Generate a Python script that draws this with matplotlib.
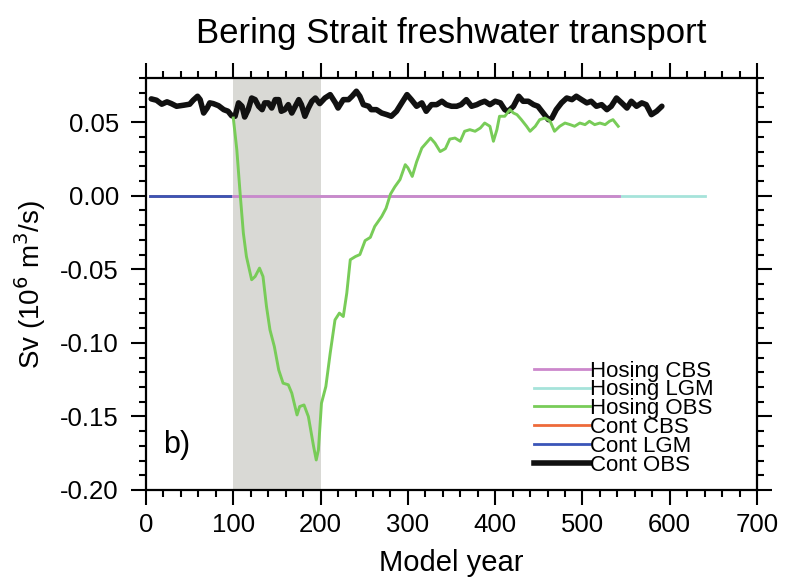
import numpy as np
import matplotlib.pyplot as plt
from matplotlib.ticker import MultipleLocator, FormatStrFormatter
from matplotlib.lines import Line2D

plt.rcParams['font.family'] = ['Liberation Sans', 'DejaVu Sans']

# Cont OBS
cont_obs_year = [6, 12, 18, 24, 29, 35, 43, 50, 54, 59, 62, 66, 70, 73, 77, 83, 89, 94, 98,
                 102, 106, 110, 113, 117, 121, 125, 129, 133, 136, 140, 144, 148, 152, 155,
                 159, 163, 167, 171, 175, 178, 182, 186, 190, 194, 199, 205, 211, 217, 220,
                 226, 232, 236, 241, 245, 249, 255, 258, 264, 270, 276, 281, 287, 293, 299,
                 304, 310, 316, 321, 327, 333, 339, 344, 350, 356, 361, 367, 373, 379, 383,
                 388, 394, 400, 406, 411, 415, 421, 427, 432, 438, 444, 449, 455, 461, 465,
                 470, 476, 482, 488, 493, 499, 505, 510, 516, 522, 528, 533, 539, 545, 551,
                 556, 562, 568, 573, 579, 585, 591]
cont_obs_sv = [.0658, .0649, .0622, .0638, .0626, .0608, .0615, .0622, .0649, .0676, .0653,
               .0562, .0596, .0631, .0626, .0612, .0585, .0574, .0544, .0540, .0631, .0608,
               .0535, .0585, .0664, .0653, .0608, .0585, .0631, .0631, .0596, .0653, .0653,
               .0574, .0585, .0619, .0562, .0608, .0653, .0619, .0540, .0596, .0642, .0664,
               .0626, .0664, .0687, .0631, .0596, .0653, .0653, .0676, .0710, .0676, .0619,
               .0608, .0585, .0585, .0562, .0551, .0540, .0574, .0631, .0687, .0653, .0608,
               .0631, .0574, .0619, .0619, .0642, .0619, .0608, .0608, .0619, .0653, .0608,
               .0619, .0631, .0642, .0619, .0642, .0631, .0585, .0574, .0608, .0676, .0642,
               .0642, .0619, .0608, .0562, .0517, .0528, .0585, .0631, .0664, .0653, .0676,
               .0653, .0631, .0642, .0608, .0619, .0585, .0608, .0664, .0631, .0596, .0642,
               .0608, .0631, .0619, .0551, .0574, .0608]

# Hosing OBS
hos_obs_year = [100, 104, 108, 111.5, 115, 121, 125, 130, 134, 138, 142, 147, 152, 157, 163,
                167, 173, 176, 181, 186, 192, 195, 197.5, 201, 206, 211, 216.5, 221.5, 226,
                230, 234, 240, 245, 251, 257, 262, 270, 275, 280, 285, 291, 297, 300, 305,
                310, 316, 321, 326, 331, 337, 343, 348, 354, 360, 365, 371, 377, 383, 388,
                394, 398, 402, 405, 411, 417, 421, 425, 430, 436, 440, 446, 451, 457, 463,
                468, 474, 480, 486, 491, 497, 503, 508, 514, 520, 526, 531, 535, 541]
hos_obs_sv = [.0528, .0313, .0000, -.0254, -.0413, -.0571, -.0549, -.0492, -.0549, -.0753,
              -.0912, -.1025, -.1184, -.1274, -.1285, -.1342, -.1490, -.1433, -.1422, -.1501,
              -.1705, -.1796, -.1728, -.1410, -.1297, -.1070, -.0844, -.0798, -.0821, -.0662,
              -.0435, -.0413, -.0400, -.0305, -.0283, -.0209, -.0141, -.0085, .0010, .0060,
              .0110, .0211, .0190, .0131, .0230, .0324, .0358, .0392, .0358, .0300, .0320,
              .0385, .0392, .0370, .0438, .0449, .0438, .0460, .0494, .0472, .0370, .0449,
              .0540, .0540, .0585, .0562, .0551, .0517, .0472, .0438, .0472, .0517, .0528,
              .0506, .0438, .0472, .0494, .0483, .0472, .0494, .0483, .0506, .0483, .0494,
              .0483, .0506, .0517, .0472]

# closed-strait runs: flat zero
cont_cbs_year, cont_cbs_sv = [5, 540], [0.0, 0.0]
cont_lgm_year, cont_lgm_sv = [5, 540], [0.0, 0.0]
hos_lgm_year, hos_lgm_sv = [100, 640], [0.0, 0.0]
hos_cbs_year, hos_cbs_sv = [100, 542], [0.0, 0.0]

hosing_period = (100, 200)

c_hcbs = '#cc88cc'
c_hlgm = '#a6e3da'
c_hobs = '#78cc58'
c_ccbs = '#ee6a3a'
c_clgm = '#3a55b8'
c_cobs = '#111111'

fig = plt.figure(figsize=(7.86, 5.80), dpi=100)
ax = fig.add_axes([0.1858, 0.1552, 0.7773, 0.7103])

ax.axvspan(*hosing_period, color='#d9d9d5', lw=0, zorder=0)

ax.plot(cont_cbs_year, cont_cbs_sv, color=c_ccbs, lw=2, zorder=2)
ax.plot(cont_lgm_year, cont_lgm_sv, color=c_clgm, lw=2, zorder=2)
ax.plot(hos_lgm_year, hos_lgm_sv, color=c_hlgm, lw=2, zorder=2)
ax.plot(hos_cbs_year, hos_cbs_sv, color=c_hcbs, lw=2, zorder=2)
ax.plot(cont_obs_year, cont_obs_sv, color=c_cobs, lw=4, zorder=3,
        solid_joinstyle='round', solid_capstyle='round')
ax.plot(hos_obs_year, hos_obs_sv, color=c_hobs, lw=2.1, zorder=4,
        solid_joinstyle='round')

ax.set_xlim(0, 700)
ax.set_ylim(-0.2, 0.08)
ax.xaxis.set_major_locator(MultipleLocator(100))
ax.xaxis.set_minor_locator(MultipleLocator(20))
ax.yaxis.set_major_locator(MultipleLocator(0.05))
ax.yaxis.set_minor_locator(MultipleLocator(0.01))
ax.yaxis.set_major_formatter(FormatStrFormatter('%.2f'))

ax.tick_params(which='both', direction='out', top=True, right=True, width=1.5)
ax.tick_params(which='major', length=10.5, labelsize=18.5)
ax.tick_params(which='minor', length=5)
ax.tick_params(axis='y', pad=9)
ax.tick_params(axis='x', pad=6)
for s in ax.spines.values():
    s.set_linewidth(1.6)

ax.set_xlabel('Model year', fontsize=21, labelpad=9)
ax.set_ylabel('Sv (10$^6$ m$^3$/s)', fontsize=20, labelpad=9)
ax.set_title('Bering Strait freshwater transport', fontsize=25, pad=25)
ax.text(20, -0.175, 'b)', fontsize=22)

handles = [Line2D([], [], color=c_hcbs, lw=2), Line2D([], [], color=c_hlgm, lw=2),
           Line2D([], [], color=c_hobs, lw=2), Line2D([], [], color=c_ccbs, lw=2),
           Line2D([], [], color=c_clgm, lw=2), Line2D([], [], color=c_cobs, lw=4)]
labels = ['Hosing CBS', 'Hosing LGM', 'Hosing OBS', 'Cont CBS', 'Cont LGM', 'Cont OBS']
ax.legend(handles, labels, loc='lower left', bbox_to_anchor=(0.635, 0.035),
          frameon=False, fontsize=16, handlelength=2.5, handletextpad=0.0,
          labelspacing=-0.1, borderpad=0, borderaxespad=0)

fig.savefig('out.png', dpi=100)
